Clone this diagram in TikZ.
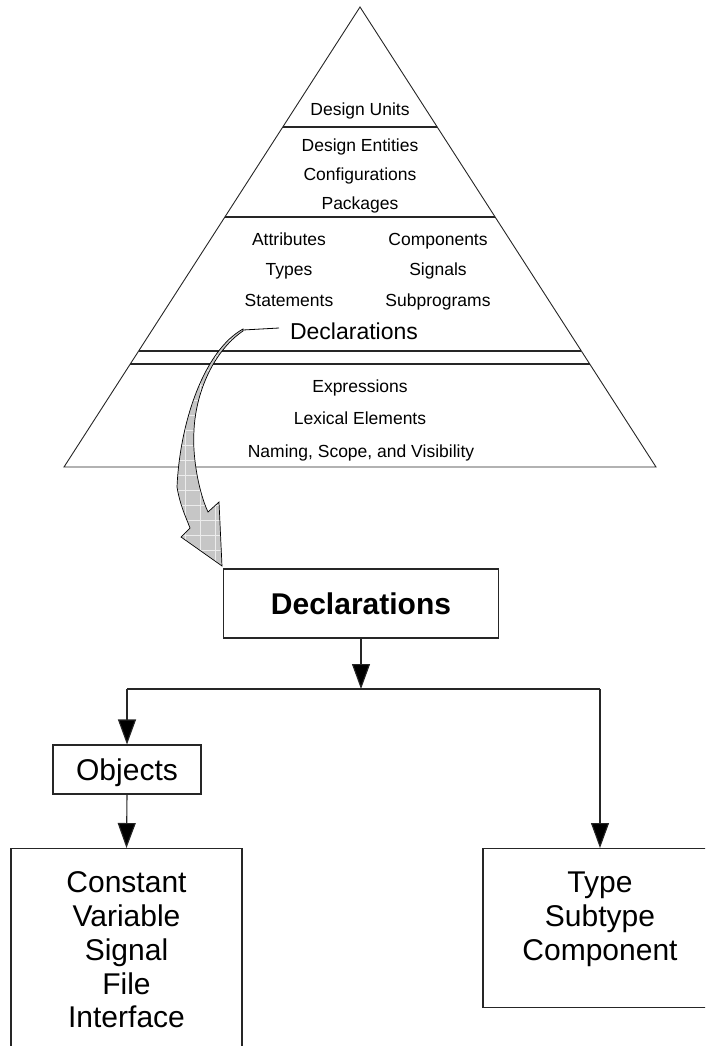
\documentclass[tikz,border=0pt]{standalone}
\usepackage{fontspec}
\setmainfont{Liberation Sans}
\usetikzlibrary{arrows.meta,calc}
\begin{document}
\begin{tikzpicture}[x=1pt,y=-1pt,
  edge/.style={line width=1.1pt, draw=black!85},
  box/.style={draw=black!85, line width=1.1pt, inner sep=0pt},
  small/.style={font=\fontsize{17.5}{20}\selectfont, inner sep=0pt, anchor=base},
  mid/.style={font=\fontsize{23}{26}\selectfont, inner sep=0pt, anchor=base},
  big/.style={font=\fontsize{30}{34}\selectfont, inner sep=0pt, anchor=base},
  tip/.style={-{Triangle[length=25pt,width=18pt,fill=black]}},
]
\clip (0,0) rectangle (705,1046);

% ---- pyramid of language levels ----
\coordinate (apex) at (360,7);
\coordinate (bl) at (64,467);
\coordinate (br) at (656,467);
\draw[edge, line width=0.9pt] (apex) -- (bl) -- (br) -- cycle;
\foreach \y in {127,217,351,364} {
  \draw[edge] ($(apex)!{(\y-7)/460}!(bl)$) -- ($(apex)!{(\y-7)/460}!(br)$);
}

\node[small] (du) at (360,116) {Design Units};
\node[small] (de) at (360,151) {Design Entities};
\node[small] (cf) at (360,180) {Configurations};
\node[small] (pk) at (360,209) {Packages};
\node[small] (at) at (289,245) {Attributes};
\node[small] (cp) at (438,245) {Components};
\node[small] (ty) at (289,275) {Types};
\node[small] (sg) at (438,275) {Signals};
\node[small] (st) at (289,306) {Statements};
\node[small] (sp) at (438,306) {Subprograms};
\node[mid]   (dt) at (354,339) {Declarations};
\node[small] (ex) at (360,392) {Expressions};
\node[small] (lx) at (360,424) {Lexical Elements};
\node[small] (nm) at (361,457) {Naming, Scope, and Visibility};

% ---- bent shaded arrow from the pyramid down to the detail box ----
\coordinate (tA) at (279,328);
\coordinate (tB) at (243,330);
\draw[line width=0.8pt] (tA) -- (tB);
\fill[gray!45] (243,329) .. controls (205,350) and (180,420) .. (177,487)
  .. controls (180,505) and (185,515) .. (190,528) -- (181,537) -- (222,566)
  -- (219,502) -- (208,512) .. controls (200,495) and (192,460) .. (194,430)
  .. controls (196,390) and (215,350) .. (243,331) -- cycle;
\begin{scope}
  \clip (243,329) .. controls (205,350) and (180,420) .. (177,487)
    .. controls (180,505) and (185,515) .. (190,528) -- (181,537) -- (222,566)
    -- (219,502) -- (208,512) .. controls (200,495) and (192,460) .. (194,430)
    .. controls (196,390) and (215,350) .. (243,331) -- cycle;
  \foreach \k in {0,...,6} \draw[white!85!gray, line width=0.6pt] (170+\k*15,320) -- ++(0,260);
  \foreach \k in {0,...,17} \draw[white!85!gray, line width=0.6pt] (165,325+\k*15) -- ++(90,0);
\end{scope}
\draw[line width=0.7pt] (243,329) .. controls (205,350) and (180,420) .. (177,487)
  .. controls (180,505) and (185,515) .. (190,528) -- (181,537) -- (222,566)
  -- (219,502) -- (208,512) .. controls (200,495) and (192,460) .. (194,430)
  .. controls (196,390) and (215,350) .. (243,331) -- cycle;

% ---- declaration tree ----
\node[box, minimum width=275pt, minimum height=69pt,
      font=\bfseries\fontsize{30}{34}\selectfont] (dbox) at (361,603.5) {Declarations};
\node[box, minimum width=148pt, minimum height=49pt, text depth=0pt,
      font=\fontsize{30}{34}\selectfont] (obj) at (127,769.5) {Objects};
\node[box, minimum width=231pt, minimum height=230pt, anchor=north] (lbox) at (126.5,848) {};
\node[box, minimum width=234pt, minimum height=159pt, anchor=north] (rbox) at (600,848) {};

\coordinate (j)  at (361,689);
\coordinate (jl) at (127,689);
\coordinate (jr) at (600,689);
\draw[edge,tip] (dbox.south) -- (j);
\draw[edge] (jl) -- (jr);
\draw[edge,tip] (jl) -- (obj.north);
\draw[edge,tip] (jr) -- (rbox.north);
\draw[edge,tip] (obj.south) -- (lbox.north);

\node[big] (c1) at (126.5,892)  {Constant};
\node[big] (c2) at (126.5,926)  {Variable};
\node[big] (c3) at (126.5,960)  {Signal};
\node[big] (c4) at (126.5,994)  {File};
\node[big] (c5) at (126.5,1027) {Interface};

\node[big] (r1) at (600,892) {Type};
\node[big] (r2) at (600,926) {Subtype};
\node[big] (r3) at (600,960) {Component};
\end{tikzpicture}
\end{document}
